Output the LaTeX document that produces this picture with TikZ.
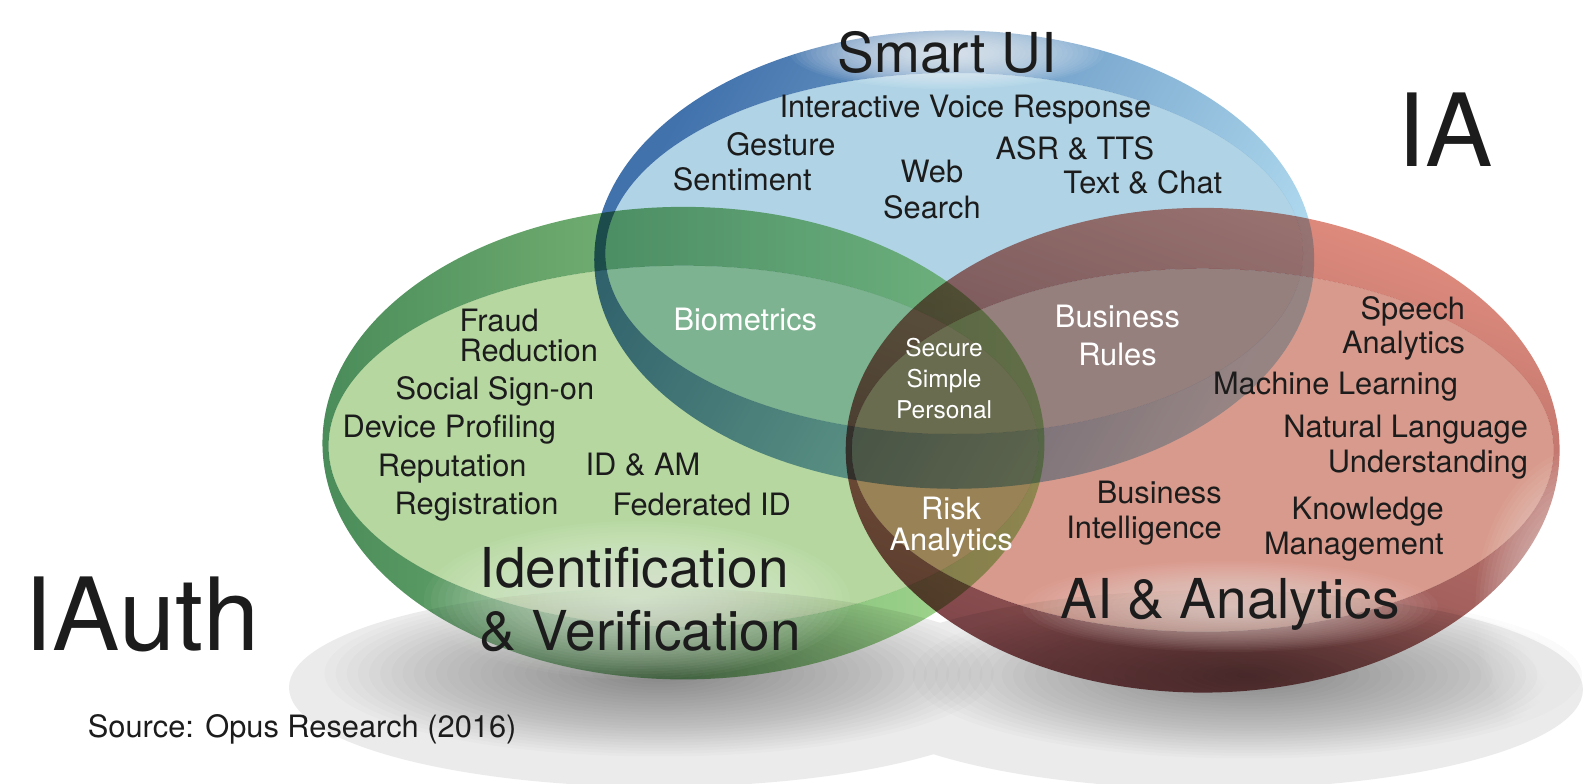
\documentclass[tikz,border=0pt]{standalone}
\usepackage{fontspec}
\setmainfont{TeX Gyre Heros}
\definecolor{txt}{RGB}{28,28,28}
\definecolor{gband1}{RGB}{74,140,90}
\definecolor{gband2}{RGB}{170,222,146}
\definecolor{ginner}{RGB}{182,216,160}
\definecolor{bband1}{RGB}{66,114,172}
\definecolor{bband2}{RGB}{178,220,240}
\definecolor{binner}{RGB}{176,212,230}
\definecolor{rband1}{RGB}{224,140,126}
\definecolor{rband2}{RGB}{124,68,72}
\definecolor{rinner}{RGB}{216,154,140}
\newcommand{\softblob}[6]{% colour, opacity per layer, cx, cy, rx, ry
  \foreach \k in {1,...,30}{%
    \fill[#1, fill opacity=#2] (#3,#4) ellipse [x radius={#5pt*\k/30}, y radius={#6pt*\k/30}];}}
\tikzset{
  tx/.style={inner sep=0pt, text=txt, font=\fontsize{30.8}{34.5}\selectfont},
  wt/.style={tx, text=white},
  big/.style={inner sep=0pt, text=txt, font=\fontsize{55}{63}\selectfont},
  huge/.style={inner sep=0pt, text=txt, font=\fontsize{101}{110}\selectfont},
}
\begin{document}
\begin{tikzpicture}[x=1pt,y=-1pt,scale=1.01403]
\useasboundingbox (0,0) rectangle (1568,773.15);
\begin{scope}
\clip (0,0) rectangle (1568,773.15);
% shadows
\fill[black!8] (650,678) ellipse [x radius=365pt, y radius=98pt];
\fill[black!8] (1197,680) ellipse [x radius=364pt, y radius=98pt];
\softblob{black}{0.016}{650}{664}{330}{82}
\softblob{black}{0.016}{1230}{666}{330}{82}
% discs
\begin{scope}[blend mode=multiply]
\shade[even odd rule, left color=gband1, right color=gband2]
  (674,437) ellipse [x radius=356pt, y radius=233pt]
  (674,440) ellipse [x radius=350pt, y radius=178pt];
\fill[ginner] (674,440) ellipse [x radius=350pt, y radius=178pt];
\shade[even odd rule, top color=bband1, bottom color=bband2, shading angle=60]
  (941,256) ellipse [x radius=355pt, y radius=226pt]
  (941,250) ellipse [x radius=344pt, y radius=178pt];
\fill[binner] (941,250) ellipse [x radius=344pt, y radius=178pt];
\shade[even odd rule, top color=rband1, bottom color=rband2, shading angle=-20]
  (1186,444) ellipse [x radius=352pt, y radius=239pt]
  (1186,444) ellipse [x radius=346pt, y radius=179pt];
\fill[rinner] (1186,444) ellipse [x radius=346pt, y radius=179pt];
\end{scope}
% glows
\softblob{white}{0.05}{934}{52}{155}{36}
\softblob{white!80!ginner}{0.045}{628}{592}{210}{78}
\softblob{white!75!rinner}{0.04}{1213}{598}{205}{45}
\softblob{white}{0.045}{1570}{600}{115}{160}
\end{scope}
% texts
\node[big] (smart) at (934,52) {Smart UI};
\node[tx] (ivr) at (952,108) {Interactive Voice Response};
\node[tx] (gesture) at (770,142) {Gesture};
\node[tx] (asr) at (1060,146) {ASR \& TTS};
\node[tx] (sentiment) at (732,177) {Sentiment};
\node[tx, align=center, font=\fontsize{30.8}{36.5}\selectfont] (web) at (919,187) {Web\\Search};
\node[tx] (textchat) at (1127,180) {Text \& Chat};
\node[wt] (bio) at (735,315) {Biometrics};
\node[tx, align=left, anchor=west, font=\fontsize{30.8}{30.5}\selectfont] (fraud) at (453,331) {Fraud\\Reduction};
\node[tx] (social) at (488,386) {Social Sign-on};
\node[tx] (device) at (443,424) {Device Profiling};
\node[tx] (reputation) at (446,462) {Reputation};
\node[tx] (idam) at (634,458) {ID \& AM};
\node[tx] (registration) at (470,500) {Registration};
\node[tx] (federated) at (692,498) {Federated ID};
\node[big, align=left, anchor=west] (idv) at (473,591) {Identification\\\& Verification};
\node[wt, align=center, font=\fontsize{24.5}{31}\selectfont] (ssp) at (931,373) {Secure\\Simple\\Personal};
\node[wt, align=center, font=\fontsize{30.8}{37.5}\selectfont] (busrules) at (1102,331) {Business\\Rules};
\node[tx, align=right, anchor=east] (speech) at (1445,324) {Speech\\Analytics};
\node[tx] (ml) at (1317,381) {Machine Learning};
\node[tx, align=right, anchor=east] (nlu) at (1507,441) {Natural Language\\Understanding};
\node[tx, align=right, anchor=east] (bi) at (1205,506) {Business\\Intelligence};
\node[tx, align=right, anchor=east, font=\fontsize{30.8}{35.5}\selectfont] (km) at (1424,522) {Knowledge\\Management};
\node[wt, align=center, font=\fontsize{30.8}{30.5}\selectfont] (risk) at (938,520) {Risk\\Analytics};
\node[big] (ai) at (1213,596) {AI \& Analytics};
\node[huge] (ia) at (1425,128) {IA};
\node[huge] (iauth) at (140,606) {IAuth};
\node[tx] (source) at (298,719) {Source: Opus Research (2016)};
\end{tikzpicture}
\end{document}
